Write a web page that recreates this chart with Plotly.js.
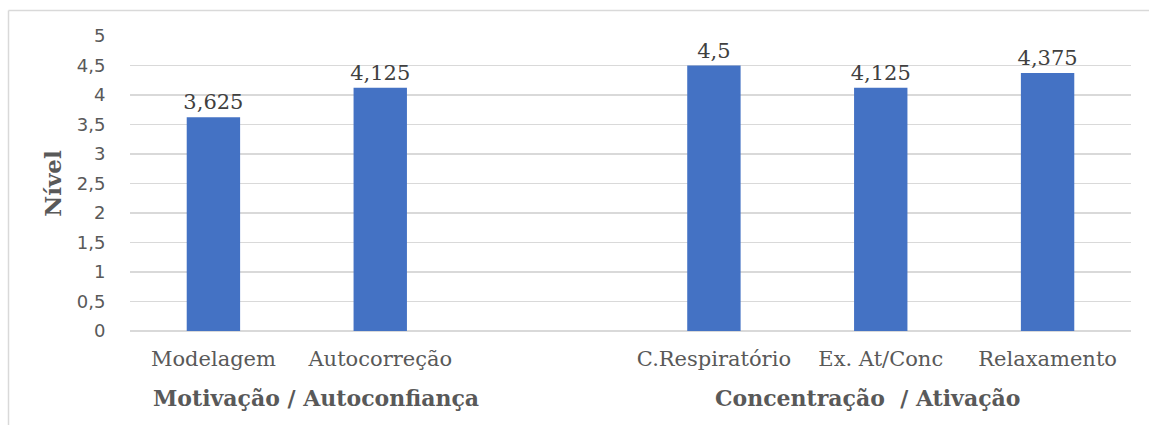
<!DOCTYPE html>
<html>
<head>
<meta charset="utf-8">
<script src="https://cdn.plot.ly/plotly-3.0.1.min.js"></script>
<style>
  html, body { margin: 0; padding: 0; background: #ffffff; }
  #chart { width: 1149px; height: 425px; }
</style>
</head>
<body>
<div id="chart"></div>
<script>
// Categories (an empty slot separates the two groups)
const categories = ['Modelagem', 'Autocorreção', '\u00a0', 'C.Respiratório', 'Ex. At/Conc', 'Relaxamento'];
const values = [3.625, 4.125, null, 4.5, 4.125, 4.375];
const groupLabels = ['Motivação / Autoconfiança', 'Concentração  / Ativação'];
const yTitle = 'Nível';

const labels = values.map(v => v === null ? '' : String(v).replace('.', ','));

const W = 1149, H = 425;
const M = { l: 130, r: 18, t: 36, b: 94 };
const pw = W - M.l - M.r, ph = H - M.t - M.b;
const px = x => (x - M.l) / pw;
const py = y => (H - M.b - y) / ph;

const trace = {
  type: 'bar',
  x: categories,
  y: values,
  text: labels,
  textposition: 'outside',
  constraintext: 'none',
  cliponaxis: false,
  textfont: { family: 'DejaVu Serif', size: 21, color: '#404040' },
  marker: { color: '#4472C4' },
  hoverinfo: 'x+y'
};

const layout = {
  width: W, height: H,
  margin: M,
  paper_bgcolor: '#ffffff',
  plot_bgcolor: '#ffffff',
  separators: ',.',
  bargap: 0.68,
  showlegend: false,
  xaxis: {
    type: 'category',
    categoryorder: 'array',
    categoryarray: categories,
    range: [-0.5, 5.5],
    showgrid: false,
    showline: false,
    zeroline: false,
    ticks: 'outside',
    ticklen: 9,
    tickcolor: 'rgba(0,0,0,0)',
    tickfont: { family: 'DejaVu Serif', size: 21, color: '#595959' }
  },
  yaxis: {
    range: [0, 5],
    dtick: 0.5,
    tick0: 0,
    showgrid: true,
    gridcolor: '#d9d9d9',
    gridwidth: 1.5,
    zeroline: true,
    zerolinecolor: '#d9d9d9',
    zerolinewidth: 1.5,
    showline: false,
    ticks: 'outside',
    ticklen: 20,
    tickcolor: 'rgba(0,0,0,0)',
    tickfont: { family: 'DejaVu Sans', size: 18, color: '#595959' },
    title: { text: yTitle, font: { family: 'DejaVu Serif', size: 23, color: '#595959', weight: 'bold' }, standoff: 8 }
  },
  annotations: [
    { xref: 'paper', yref: 'paper', x: px(316), y: py(398), xanchor: 'center', yanchor: 'middle', showarrow: false,
      text: '<b>' + groupLabels[0] + '</b>', font: { family: 'DejaVu Serif', size: 22, color: '#595959' } },
    { xref: 'paper', yref: 'paper', x: px(867), y: py(398), xanchor: 'center', yanchor: 'middle', showarrow: false,
      text: '<b>' + groupLabels[1] + '</b>', font: { family: 'DejaVu Serif', size: 22, color: '#595959' } }
  ],
  shapes: [
    { type: 'line', xref: 'paper', yref: 'paper', x0: px(8.5), x1: px(8.5), y0: py(10.5), y1: py(425), line: { color: '#d9d9d9', width: 1.5 } },
    { type: 'line', xref: 'paper', yref: 'paper', x0: px(8.5), x1: px(1149), y0: py(10.5), y1: py(10.5), line: { color: '#d9d9d9', width: 1.5 } }
  ]
};

Plotly.newPlot('chart', [trace], layout, { displayModeBar: false, staticPlot: true });
</script>
</body>
</html>
